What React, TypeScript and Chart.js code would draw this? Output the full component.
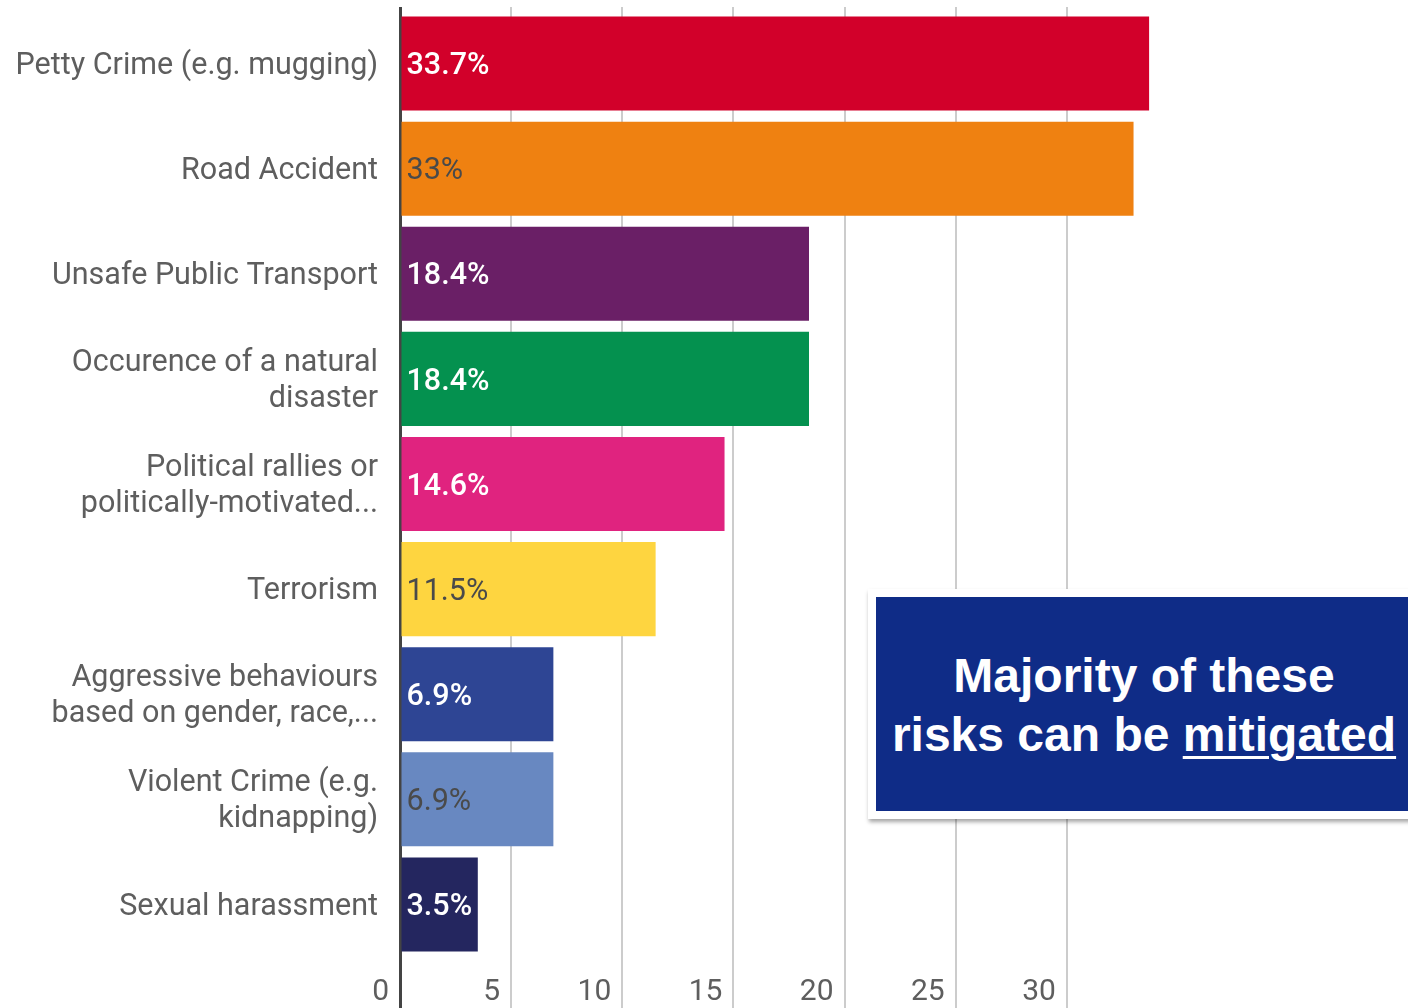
import React, { useEffect, useRef } from 'react';
import { Chart, registerables } from 'chart.js';

Chart.register(...registerables);

const categories: string[][] = [
  ['Petty Crime (e.g. mugging)'],
  ['Road Accident'],
  ['Unsafe Public Transport'],
  ['Occurence of a natural', 'disaster'],
  ['Political rallies or', 'politically-motivated...'],
  ['Terrorism'],
  ['Aggressive behaviours', 'based on gender, race,...'],
  ['Violent Crime (e.g.', 'kidnapping)'],
  ['Sexual harassment'],
];

const values: number[] = [33.7, 33, 18.4, 18.4, 14.6, 11.5, 6.9, 6.9, 3.5];

const valueLabels: string[] = ['33.7%', '33%', '18.4%', '18.4%', '14.6%', '11.5%', '6.9%', '6.9%', '3.5%'];

const barColors: string[] = [
  '#D2002A',
  '#EF8111',
  '#6A1F66',
  '#04914F',
  '#E0237F',
  '#FED540',
  '#2E4594',
  '#6888C1',
  '#24265F',
];

const valueLabelColors: string[] = [
  '#FFFFFF',
  '#4A4A4A',
  '#FFFFFF',
  '#FFFFFF',
  '#FFFFFF',
  '#4A4A4A',
  '#FFFFFF',
  '#4A4A4A',
  '#FFFFFF',
];

const X_MIN = 0;
const X_MAX = 35;
const X_STEP = 5;

const calloutLines: string[] = ['Majority of these', 'risks can be', 'mitigated'];

const TEXT_GRAY = '#5E5E5E';

const barLabelPlugin = {
  id: 'barValueLabels',
  afterDatasetsDraw(chart: any) {
    const ctx = chart.ctx;
    const meta = chart.getDatasetMeta(0);
    meta.data.forEach((bar: any, i: number) => {
      const { y, base } = bar.getProps(['y', 'base'], true);
      ctx.save();
      const white = valueLabelColors[i] === '#FFFFFF';
      ctx.font = `${white ? 500 : 400} 30.5px Roboto`;
      ctx.fillStyle = valueLabelColors[i];
      ctx.textAlign = 'left';
      ctx.textBaseline = 'middle';
      ctx.fillText(valueLabels[i], base + 5, y + 3);
      ctx.restore();
    });
  },
};

const gridColor = (c: any) =>
  c.tick && c.tick.value === X_MIN ? '#444444' : c.tick && c.tick.value === X_MAX ? 'rgba(0,0,0,0)' : '#CCCCCC';
const gridWidth = (c: any) => (c.tick && c.tick.value === X_MIN ? 3 : 2);

export default function App() {
  const canvasRef = useRef<HTMLCanvasElement | null>(null);

  useEffect(() => {
    document.body.style.margin = '0';
    document.body.style.overflow = 'hidden';
    const canvas = canvasRef.current;
    if (!canvas) return;
    const chart = new Chart(canvas, {
      type: 'bar',
      data: {
        labels: categories,
        datasets: [
          {
            data: values,
            backgroundColor: barColors,
            borderWidth: 0,
            barPercentage: 0.895,
            categoryPercentage: 1,
          },
        ],
      },
      options: {
        indexAxis: 'y',
        animation: false,
        responsive: false,
        layout: { padding: { left: 0, right: 230, top: 7, bottom: 0 } },
        plugins: {
          legend: { display: false },
          tooltip: { enabled: false },
        },
        scales: {
          x: {
            type: 'linear',
            position: 'bottom',
            min: X_MIN,
            max: X_MAX,
            border: { display: false },
            grid: {
              drawTicks: true,
              tickLength: 51,
              color: gridColor,
              lineWidth: gridWidth,
            },
            ticks: {
              stepSize: X_STEP,
              align: 'end',
              padding: -34,
              labelOffset: -11,
              maxRotation: 0,
              autoSkip: false,
              color: TEXT_GRAY,
              font: { family: 'Roboto', size: 30 },
              callback: (v: any) => (v === X_MAX ? '' : `${v}`),
            },
            afterFit: (scale: any) => {
              scale.height = 51;
              scale.paddingLeft = 0;
              scale.paddingRight = 0;
            },
          },
          x2: {
            type: 'linear',
            position: 'top',
            min: X_MIN,
            max: X_MAX,
            border: { display: false },
            grid: {
              drawOnChartArea: false,
              drawTicks: true,
              tickLength: 4,
              color: gridColor,
              lineWidth: gridWidth,
            },
            ticks: { display: false, stepSize: X_STEP },
            afterFit: (scale: any) => {
              scale.height = 4;
              scale.paddingLeft = 0;
              scale.paddingRight = 0;
            },
          },
          y: {
            z: 1,
            border: { display: true, color: '#444444', width: 3 },
            grid: { display: false, drawTicks: false },
            ticks: {
              padding: 22,
              labelOffset: 2.5,
              color: TEXT_GRAY,
              font: { family: 'Roboto', size: 30.5, lineHeight: 1.18 },
            },
            afterFit: (scale: any) => {
              scale.width = 400;
              scale.paddingTop = 0;
              scale.paddingBottom = 0;
            },
          },
        },
      },
      plugins: [barLabelPlugin],
    });
    return () => chart.destroy();
  }, []);

  return (
    <div style={{ position: 'fixed', left: 0, top: 0, width: 1408, height: 1008, overflow: 'hidden', background: '#fff' }}>
      <canvas ref={canvasRef} width={1408} height={1008} style={{ position: 'absolute', left: 0, top: 0 }} />
      <div
        style={{
          position: 'absolute',
          left: 868,
          top: 589,
          width: 580,
          height: 230,
          background: '#FFFFFF',
          boxShadow: '1px 3px 4px rgba(0,0,0,0.35)',
        }}
      >
        <div
          style={{
            position: 'absolute',
            left: 8,
            top: 8,
            width: 572,
            height: 214,
            background: '#0F2C87',
          }}
        >
          <div
            style={{
              position: 'absolute',
              left: 0,
              top: 0,
              width: 536,
              height: 214,
              display: 'flex',
              flexDirection: 'column',
              justifyContent: 'center',
              alignItems: 'center',
              color: '#FFFFFF',
              fontFamily: '"Liberation Sans", Arial, sans-serif',
              fontWeight: 700,
              fontSize: 48,
              lineHeight: '59px',
              textAlign: 'center',
              paddingTop: 2,
              boxSizing: 'border-box',
            }}
          >
            <div>{calloutLines[0]}</div>
            <div>
              {calloutLines[1]}{' '}
              <span style={{ textDecoration: 'underline', textDecorationThickness: 3, textUnderlineOffset: 5 }}>
                {calloutLines[2]}
              </span>
            </div>
          </div>
        </div>
      </div>
    </div>
  );
}
